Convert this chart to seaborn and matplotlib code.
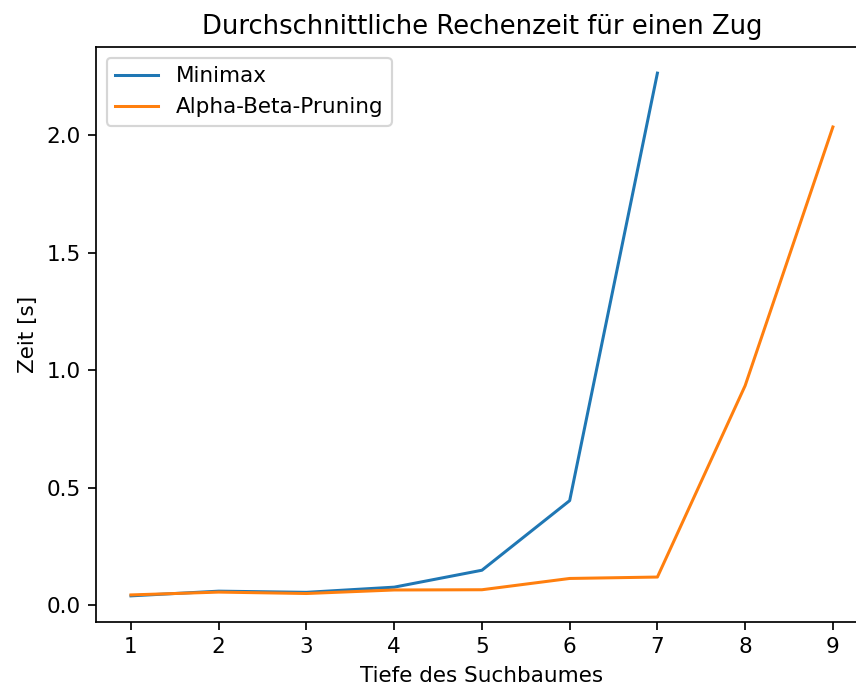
import matplotlib
matplotlib.use("Agg")
import matplotlib.pyplot as plt
import pandas as pd
import seaborn as sns

minimax_depth = [1, 2, 3, 4, 5, 6, 7]
minimax_time = [0.040, 0.060, 0.055, 0.077, 0.149, 0.445, 2.263]
ab_depth = [1, 2, 3, 4, 5, 6, 7, 8, 9]
ab_time = [0.044, 0.056, 0.050, 0.065, 0.066, 0.114, 0.120, 0.934, 2.034]

df = pd.concat([
    pd.DataFrame({"Tiefe": minimax_depth, "Zeit": minimax_time, "Algorithmus": "Minimax"}),
    pd.DataFrame({"Tiefe": ab_depth, "Zeit": ab_time, "Algorithmus": "Alpha-Beta-Pruning"}),
])

dpi = 155
fig, ax = plt.subplots(figsize=(856 / dpi, 686 / dpi), dpi=dpi)
# the original image is cut off on the right, so the axes run past the edge
fig.subplots_adjust(left=0.112, right=1.014, top=0.9315, bottom=0.0933)
sns.lineplot(data=df, x="Tiefe", y="Zeit", hue="Algorithmus",
             palette=["#1f77b4", "#ff7f0e"], ax=ax, linewidth=1.4)
ax.spines["right"].set_visible(False)
ax.legend(loc="upper left")
ax.set_title("Durchschnittliche Rechenzeit für einen Zug")
ax.set_xlabel("Tiefe des Suchbaumes")
ax.set_ylabel("Zeit [s]")
ax.set_xticks(ab_depth)
ax.set_yticks([0.0, 0.5, 1.0, 1.5, 2.0])
plt.savefig("out.png", dpi=dpi)
